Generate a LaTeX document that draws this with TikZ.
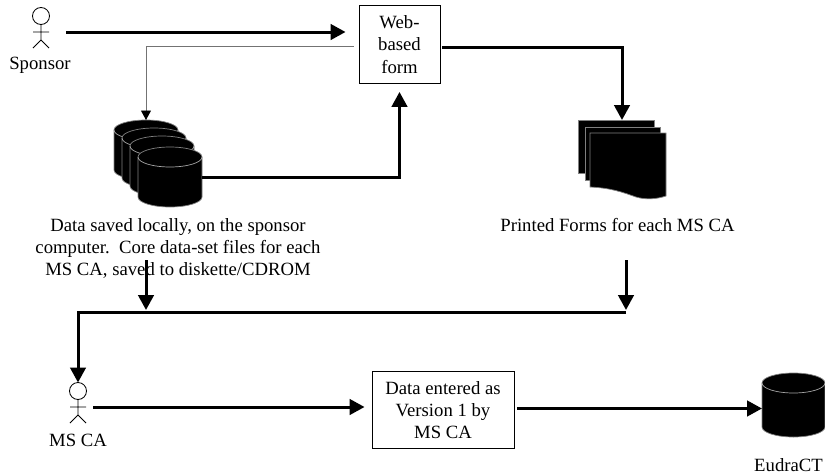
\documentclass[tikz,border=0pt]{standalone}
\usepackage{fontspec}
\setmainfont{Liberation Serif}
\usetikzlibrary{arrows.meta,calc}
\tikzset{
  lbl/.style={inner sep=0pt,align=center,font=\fontsize{18.7}{22.3}\selectfont},
  formbox/.style={draw=black,line width=0.9pt,inner sep=0pt,align=center,font=\fontsize{18.7}{22.3}\selectfont,fill=white},
  conn/.style={draw=black,line width=3pt,-{Triangle[length=15pt,width=15.5pt]}},
  thinconn/.style={draw=black!55,line width=0.9pt,-{Triangle[length=9.5pt,width=10pt,color=black]}},
  figure/.style={draw=black,line width=0.8pt},
  solidshape/.style={fill=black,draw=black!50,line width=0.7pt}
}
% name, centre x, centre y, width, height
\newcommand{\storagecyl}[5]{%
  \node[inner sep=0pt,outer sep=0pt,minimum width=#4pt,minimum height=#5pt] (#1) at (#2,#3) {};
  \begin{scope}[shift={(#2,#3)}]
    \path[solidshape] ({-#4/2},{-#5/2+10}) arc[start angle=180,end angle=0,x radius=#4/2*1pt,y radius=10pt]
      -- ({#4/2},{#5/2-10}) arc[start angle=360,end angle=180,x radius=#4/2*1pt,y radius=10pt] -- cycle;
    \draw[draw=black!35,line width=0.7pt] ({-#4/2},{-#5/2+10}) arc[start angle=180,end angle=360,x radius=#4/2*1pt,y radius=10pt];
  \end{scope}}
% name, centre x, centre y (of the body between arms)
\newcommand{\stickman}[3]{%
  \node[inner sep=0pt,outer sep=0pt,minimum width=16pt,minimum height=49pt] (#1) at (#2,#3) {};
  \begin{scope}[shift={(#2,#3)}]
    \draw[figure] (0,-16) circle[radius=8.5pt];
    \draw[figure] (0,-7.5) -- (0,8) (-8,0) -- (8,0) (-8,16) -- (0,8) -- (8,16);
  \end{scope}}
% left, top, right, wave-left y, wave-right y
\newcommand{\sheet}[5]{%
  \path[solidshape] (#1,#2) -- (#3,#2) -- (#3,#5)
     .. controls ({#3-9},{#5+3}) and ({#3-20},{#5+4}) .. ({#3-30},{#5+1})
     .. controls ({#3-44},{#5-4}) and ({#3-55},{#4+1}) .. (#1,#4) -- cycle;}
\begin{document}
\begin{tikzpicture}[x=1pt,y=-1pt]
\useasboundingbox (0,0) rectangle (825,474);

% actors
\stickman{sponsor}{41}{32}
\node[lbl] (sponsorlbl) at (40,65) {Sponsor};
\stickman{msca}{78}{407}
\node[lbl] (mscalbl) at (78,440) {MS CA};

% boxes
\node[formbox,minimum width=81pt,minimum height=78pt] (web) at (399.5,44.5) {Web-\\based\\form};
\node[formbox,minimum width=142pt,minimum height=77pt] (entry) at (443,410) {Data entered as\\Version 1 by\\MS CA};

% stacked cylinders (back to front)
\storagecyl{cylD}{146}{150}{64}{60}
\storagecyl{cylC}{154}{158}{64}{60}
\storagecyl{cylB}{162}{166}{64}{60}
\storagecyl{cylA}{170}{177}{64}{60}
\storagecyl{eudra}{793.5}{405}{63}{64}

% printed forms
\node[inner sep=0pt,outer sep=0pt,minimum width=88pt,minimum height=79pt] (docs) at (622,159.5) {};
\path[solidshape] (578,120) rectangle (654,173);
\path[solidshape] (585,127) rectangle (660,180);
\sheet{590}{133}{666}{187}{196}

% captions
\node[lbl] (datalbl) at (178,248.5) {Data saved locally, on the sponsor\\computer.\ \ Core data-set files for each\\MS CA, saved to diskette/CDROM};
\node[lbl] (formslbl) at (617.5,225) {Printed Forms for each MS CA};
\node[lbl] (eudralbl) at (788.5,465) {EudraCT};

% free ends
\coordinate (stubL) at (146,260);
\coordinate (stubR) at (626,260);
\coordinate (busL) at (146,312);
\coordinate (busR) at (626,312);

% connectors
\draw[conn,shorten <=17pt,shorten >=13pt] (sponsor.east) -- (sponsor.east -| web.west);
\draw[thinconn,shorten <=5pt] ([yshift=-2pt]web.west) -| (cylD.north);
\draw[conn,shorten >=8pt] (cylA.east) -| (web.south);
\draw[conn,shorten <=2pt] ([yshift=-3pt]web.east) -| (docs.north);
\draw[conn,shorten >=2pt] (stubL) -- (busL);
\draw[conn,shorten >=2pt] (stubR) -- (busR);
\draw[conn] (busR) -| (msca.north);
\draw[conn,shorten <=7pt,shorten >=7pt] (msca.east) -- (msca.east -| entry.west);
\draw[conn,shorten <=3pt] ([yshift=1.5pt]entry.east) -- ([yshift=1.5pt]entry.east -| eudra.west);
\end{tikzpicture}
\end{document}
